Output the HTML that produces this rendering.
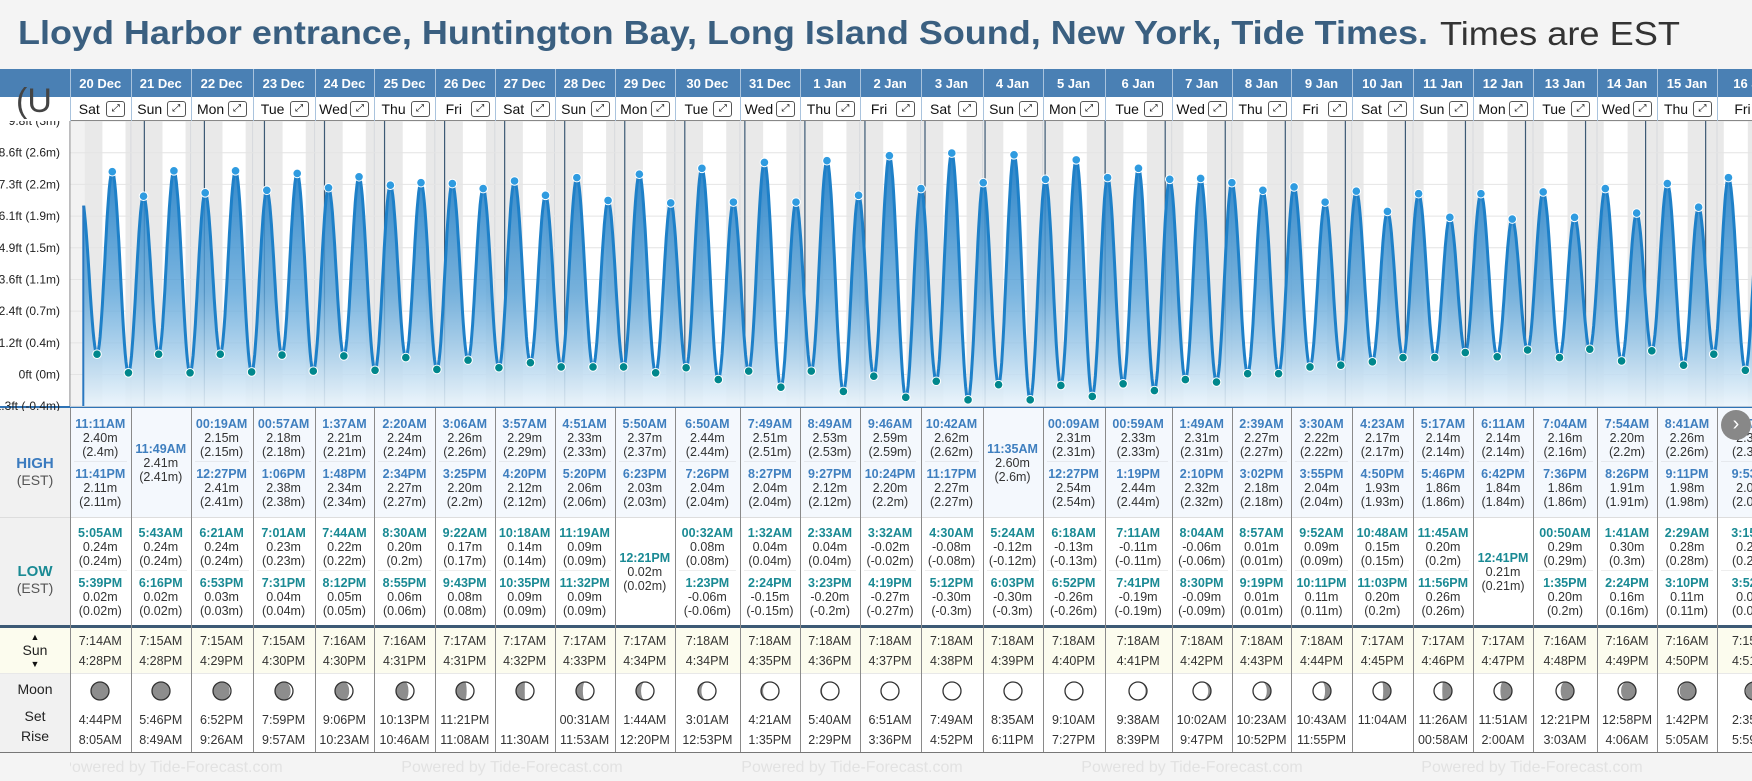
<!DOCTYPE html>
<html><head><meta charset="utf-8">
<style>
html,body{margin:0;padding:0;}
body{width:1752px;height:781px;overflow:hidden;position:relative;background:#f4f4f4;font-family:"Liberation Sans",Arial,sans-serif;}
.a{position:absolute;box-sizing:border-box;}
.t{position:absolute;white-space:nowrap;text-align:center;transform:translateX(-50%);}
</style></head>
<body>
<div class="a" style="left:18px;top:14px;height:44px;white-space:nowrap;">
<span id="ttl" style="font-size:33px;font-weight:bold;color:#3a5f80;display:inline-block;transform-origin:0 0;">Lloyd Harbor entrance, Huntington Bay, Long Island Sound, New York, Tide Times.</span>
</div>
<span id="ttl2" class="a" style="left:1440px;top:15px;font-size:33px;color:#333;white-space:nowrap;">Times are EST</span>
<div id="root"></div>
<svg id="chart" class="a" style="left:0;top:121px;" width="1752" height="290"></svg>
<script>
const dates=['20 Dec','21 Dec','22 Dec','23 Dec','24 Dec','25 Dec','26 Dec','27 Dec','28 Dec','29 Dec','30 Dec','31 Dec','1 Jan','2 Jan','3 Jan','4 Jan','5 Jan','6 Jan','7 Jan','8 Jan','9 Jan','10 Jan','11 Jan','12 Jan','13 Jan','14 Jan','15 Jan','16 Jan'];
const weekdays=['Sat','Sun','Mon','Tue','Wed','Thu','Fri','Sat','Sun','Mon','Tue','Wed','Thu','Fri','Sat','Sun','Mon','Tue','Wed','Thu','Fri','Sat','Sun','Mon','Tue','Wed','Thu','Fri'];
const highTimes=[['11:11AM','11:41PM'],['11:49AM'],['00:19AM','12:27PM'],['00:57AM','1:06PM'],['1:37AM','1:48PM'],['2:20AM','2:34PM'],['3:06AM','3:25PM'],['3:57AM','4:20PM'],['4:51AM','5:20PM'],['5:50AM','6:23PM'],['6:50AM','7:26PM'],['7:49AM','8:27PM'],['8:49AM','9:27PM'],['9:46AM','10:24PM'],['10:42AM','11:17PM'],['11:35AM'],['00:09AM','12:27PM'],['00:59AM','1:19PM'],['1:49AM','2:10PM'],['2:39AM','3:02PM'],['3:30AM','3:55PM'],['4:23AM','4:50PM'],['5:17AM','5:46PM'],['6:11AM','6:42PM'],['7:04AM','7:36PM'],['7:54AM','8:26PM'],['8:41AM','9:11PM'],['9:07AM','9:53PM']];
const highHeights=[[2.40,2.11],[2.41],[2.15,2.41],[2.18,2.38],[2.21,2.34],[2.24,2.27],[2.26,2.20],[2.29,2.12],[2.33,2.06],[2.37,2.03],[2.44,2.04],[2.51,2.04],[2.53,2.12],[2.59,2.20],[2.62,2.27],[2.60],[2.31,2.54],[2.33,2.44],[2.31,2.32],[2.27,2.18],[2.22,2.04],[2.17,1.93],[2.14,1.86],[2.14,1.84],[2.16,1.86],[2.20,1.91],[2.26,1.98],[2.33,2.05]];
const lowTimes=[['5:05AM','5:39PM'],['5:43AM','6:16PM'],['6:21AM','6:53PM'],['7:01AM','7:31PM'],['7:44AM','8:12PM'],['8:30AM','8:55PM'],['9:22AM','9:43PM'],['10:18AM','10:35PM'],['11:19AM','11:32PM'],['12:21PM'],['00:32AM','1:23PM'],['1:32AM','2:24PM'],['2:33AM','3:23PM'],['3:32AM','4:19PM'],['4:30AM','5:12PM'],['5:24AM','6:03PM'],['6:18AM','6:52PM'],['7:11AM','7:41PM'],['8:04AM','8:30PM'],['8:57AM','9:19PM'],['9:52AM','10:11PM'],['10:48AM','11:03PM'],['11:45AM','11:56PM'],['12:41PM'],['00:50AM','1:35PM'],['1:41AM','2:24PM'],['2:29AM','3:10PM'],['3:15AM','3:52PM']];
const lowHeights=[[0.24,0.02],[0.24,0.02],[0.24,0.03],[0.23,0.04],[0.22,0.05],[0.20,0.06],[0.17,0.08],[0.14,0.09],[0.09,0.09],[0.02],[0.08,-0.06],[0.04,-0.15],[0.04,-0.20],[-0.02,-0.27],[-0.08,-0.30],[-0.12,-0.30],[-0.13,-0.26],[-0.11,-0.19],[-0.06,-0.09],[0.01,0.01],[0.09,0.11],[0.15,0.20],[0.20,0.26],[0.21],[0.29,0.20],[0.30,0.16],[0.28,0.11],[0.24,0.05]];
const sunRise=['7:14AM','7:15AM','7:15AM','7:15AM','7:16AM','7:16AM','7:17AM','7:17AM','7:17AM','7:17AM','7:18AM','7:18AM','7:18AM','7:18AM','7:18AM','7:18AM','7:18AM','7:18AM','7:18AM','7:18AM','7:18AM','7:17AM','7:17AM','7:17AM','7:16AM','7:16AM','7:16AM','7:15AM'];
const sunSet=['4:28PM','4:28PM','4:29PM','4:30PM','4:30PM','4:31PM','4:31PM','4:32PM','4:33PM','4:34PM','4:34PM','4:35PM','4:36PM','4:37PM','4:38PM','4:39PM','4:40PM','4:41PM','4:42PM','4:43PM','4:44PM','4:45PM','4:46PM','4:47PM','4:48PM','4:49PM','4:50PM','4:51PM'];
const moonSet=['4:44PM','5:46PM','6:52PM','7:59PM','9:06PM','10:13PM','11:21PM','','00:31AM','1:44AM','3:01AM','4:21AM','5:40AM','6:51AM','7:49AM','8:35AM','9:10AM','9:38AM','10:02AM','10:23AM','10:43AM','11:04AM','11:26AM','11:51AM','12:21PM','12:58PM','1:42PM','2:35PM'];
const moonRise=['8:05AM','8:49AM','9:26AM','9:57AM','10:23AM','10:46AM','11:08AM','11:30AM','11:53AM','12:20PM','12:53PM','1:35PM','2:29PM','3:36PM','4:52PM','6:11PM','7:27PM','8:39PM','9:47PM','10:52PM','11:55PM','','00:58AM','2:00AM','3:03AM','4:06AM','5:05AM','5:59AM'];
const tickMeters=[-0.375,0,0.375,0.75,1.125,1.5,1.875,2.25,2.625,3.0];
const tickLabels=['-1.3ft (-0.4m)','0ft (0m)','1.2ft (0.4m)','2.4ft (0.7m)','3.6ft (1.1m)','4.9ft (1.5m)','6.1ft (1.9m)','7.3ft (2.2m)','8.6ft (2.6m)','9.8ft (3m)'];
const preExtreme=[-1,22.8,2.10];

// layout (not data)
const bx=[69.6,130.9,190.6,252.6,314.6,374.3,434.8,494.8,554.5,614.7,674.8,739.9,800,859.7,920.5,982.5,1042.6,1104.6,1171.7,1231.7,1291.3,1351.7,1413,1473,1533,1597,1657,1717,1790];
const CH_TOP=121;
function xT(t){return 84.3+60.05*t;}           // t in days since 20 Dec 00:00
function yM(m){return 374.5-84.5*m;}           // page y

const root=document.getElementById('root');
function box(name,l,t,w,h,css){const d=document.createElement('div');d.className='a';d.style.cssText=`left:${l}px;top:${t}px;width:${w}px;height:${h}px;`+(css||'');


root.appendChild(d);return d;}
function txt(name,x,y,s,css){const d=document.createElement('div');d.className='t';d.style.cssText=`left:${x}px;top:${y}px;`+(css||'');d.textContent=s;


root.appendChild(d);return d;}
function hrs(s){const m=s.match(/(\d+):(\d+)(AM|PM)/);let h=+m[1]%12;if(m[3]==='PM')h+=12;return h+ +m[2]/60;}
function fm(v){return (v<0?'-':'')+Math.abs(v).toFixed(2)+'m';}
function fp(v){return '('+parseFloat(v.toFixed(2))+'m)';}

// header
box('header-bar',0,69,1752,28,'background:#4a80b4;');
box('header-day-row',0,97,1752,24,'background:#fff;border-bottom:1px solid #888;');
box('header-left-cell',0,97,69.6,24,'background:#fff;');
txt('axis-unit-glyph',34,82,'(U','font-size:34px;color:#444;');
for(let i=0;i<dates.length;i++){
  const x0=bx[i],x1=bx[i+1],w=x1-x0,cx=(x0+x1)/2;
  box('date-divider',x0,69,1,52,'background:#a9c3dd;');
  txt('date-label',cx,76,dates[i],'font-size:13px;font-weight:bold;color:#fff;');
  txt('weekday-label',cx-11,101,weekdays[i],'font-size:14px;color:#111;');
  const b=box('expand-button',cx+6,101,19,16,'border:1px solid #555;border-radius:3px;background:#fff;font-size:10px;line-height:14px;text-align:center;color:#000;');
  
  b.textContent='⤢';
}

// table
box('label-column',0,408,69.6,344,'background:#f1f1f1;');
box('high-section',69.6,408,1700,109,'background:#f4f8fd;');
box('low-section',69.6,517,1700,109,'background:#fff;');
box('section-divider',0,517,1752,1,'background:#ddd;');
box('table-top-line',0,405,1752,3,'background:#2f73b5;');
box('sun-low-divider',0,625,1752,3,'background:#3d5a75;');
box('sun-row',69.6,628,1700,45,'background:#fcfcee;');
box('sun-label-bg',0,628,69.6,45,'background:#fcfcee;');
box('moon-row',69.6,673,1700,79,'background:#fff;');
box('sun-moon-divider',0,673,1752,1,'background:#e8e8e8;');
box('table-bottom-line',0,752,1752,1,'background:#777;');
txt('high-label',35,455,'HIGH','font-size:15px;font-weight:bold;color:#3b7bbf;');
txt('high-est-label',35,472,'(EST)','font-size:14px;color:#555;');
txt('low-label',35,563,'LOW','font-size:15px;font-weight:bold;color:#1a8a94;');
txt('low-est-label',35,580,'(EST)','font-size:14px;color:#555;');
txt('sun-arrow-up',35,632,'▲','font-size:9px;color:#111;');
txt('sun-label',35,642,'Sun','font-size:14px;color:#222;');
txt('sun-arrow-down',35,659,'▼','font-size:9px;color:#111;');
txt('moon-label',35,681,'Moon','font-size:14px;color:#222;');
txt('moonset-label',35,708,'Set','font-size:14px;color:#222;');
txt('moonrise-label',35,728,'Rise','font-size:14px;color:#222;');

function block(kind,cx,y,time,m,color){
  txt(kind+'-time',cx,y,time,`font-size:12.5px;font-weight:bold;color:${color};`);
  txt(kind+'-height',cx,y+14,fm(m),'font-size:12.5px;color:#333;');
  txt(kind+'-height-alt',cx,y+28,fp(m),'font-size:12.5px;color:#333;');
}
for(let i=0;i<dates.length;i++){
  const x0=bx[i],x1=bx[i+1],cx=(x0+x1)/2;
  box('column-border',x0,408,1,344,'background:#8a8a8a;');
  const ht=highTimes[i],hh=highHeights[i];
  if(ht.length===2){block('high',cx,417,ht[0],hh[0],'#3f7fbf');box('cell-sep',x0+4,461,x1-x0-8,1,'background:#e6e9ee;');block('high',cx,467,ht[1],hh[1],'#3f7fbf');}
  else block('high',cx,442,ht[0],hh[0],'#3f7fbf');
  const lt=lowTimes[i],lh=lowHeights[i];
  if(lt.length===2){block('low',cx,526,lt[0],lh[0],'#1a8a94');box('cell-sep',x0+4,570,x1-x0-8,1,'background:#eee;');block('low',cx,576,lt[1],lh[1],'#1a8a94');}
  else block('low',cx,551,lt[0],lh[0],'#1a8a94');
  txt('sunrise-time',cx,634,sunRise[i],'font-size:12.5px;color:#333;');
  txt('sunset-time',cx,654,sunSet[i],'font-size:12.5px;color:#333;');
  txt('moonset-time',cx,713,moonSet[i],'font-size:12.5px;color:#333;');
  txt('moonrise-time',cx,733,moonRise[i],'font-size:12.5px;color:#333;');
  // moon icon
  const p=((i+0.5)/29.5)%1, r=9, c=10;
  const rx=Math.abs(Math.cos(2*Math.PI*p))*r;
  let d;
  if(p<0.5){const sw=p<0.25?0:1;d=`M${c} ${c-r} A${r} ${r} 0 0 1 ${c} ${c+r} A${rx} ${r} 0 0 ${sw} ${c} ${c-r}Z`;}
  else{const sw=p<0.75?0:1;d=`M${c} ${c-r} A${r} ${r} 0 0 0 ${c} ${c+r} A${rx} ${r} 0 0 ${sw} ${c} ${c-r}Z`;}
  const mb=box('moon-phase-icon',cx-10,681,20,20,'');
  mb.innerHTML=`<svg width="20" height="20"><circle cx="10" cy="10" r="9" fill="#8d8d8d"/><path d="${d}" fill="#fff"/><circle cx="10" cy="10" r="9" fill="none" stroke="#333" stroke-width="1.3"/></svg>`;
}
// watermark
box('footer-bg',0,753,1752,28,'background:#f4f4f4;');
for(let k=0;k<5;k++){txt('watermark',32+340*k+140,759,'Powered by Tide-Forecast.com','font-size:16px;color:#e2e2e2;');}
box('footer-left',0,753,69.6,28,'background:#f4f4f4;');
const nb=box('next-arrow-button',1721,410,30,30,'border-radius:50%;background:#888;color:#fff;font-size:20px;line-height:28px;text-align:center;');

nb.textContent='›';

// chart
const svg=document.getElementById('chart');const NS='http://www.w3.org/2000/svg';
function el(tag,attrs,name){const e=document.createElementNS(NS,tag);for(const k in attrs)e.setAttribute(k,attrs[k]);


svg.appendChild(e);return e;}
function Y(m){return yM(m)-CH_TOP;}
const defs=document.createElementNS(NS,'defs');defs.innerHTML='<linearGradient id="fg" x1="0" y1="0" x2="0" y2="1"><stop offset="0" stop-color="#1f7cc4" stop-opacity="0.95"/><stop offset="0.55" stop-color="#5aa3d8" stop-opacity="0.8"/><stop offset="1" stop-color="#eaf4fb" stop-opacity="0.9"/></linearGradient><clipPath id="cp"><rect x="70" y="0" width="1690" height="285"/></clipPath>';svg.appendChild(defs);
el('rect',{x:0,y:0,width:70,height:285,fill:'#fff'},'y-axis-area');
el('rect',{x:70,y:0,width:1690,height:285,fill:'#fff'},'plot-background');
el('rect',{x:70,y:0,width:14,height:285,fill:'#f2f2f2'},'plot-left-margin');
for(let d=-1;d<28;d++){
  const s=d>=0?hrs(sunSet[d]):16.5, rr=d+1<28?hrs(sunRise[d+1]):7.25;
  const xa=Math.max(84.3,xT(d+s/24)), xb=xT(d+1+rr/24);
  if(xb>xa) el('rect',{x:xa,y:0,width:xb-xa,height:285,fill:'#e9e9e9'},'night-band');
}
for(let i=0;i<bx.length;i++) el('line',{x1:bx[i],x2:bx[i],y1:0,y2:285,stroke:'#d6d9dd','stroke-width':1},'column-gridline');
for(let i=0;i<tickMeters.length;i++){
  const y=Y(tickMeters[i]);
  el('line',{x1:70,x2:1752,y1:y,y2:y,stroke:'#e4e4e4','stroke-width':1},'y-gridline');
  const t=el('text',{x:60,y:y+4,'text-anchor':'end','font-size':12,fill:'#222','font-family':'Liberation Sans, sans-serif'},'y-tick-label');t.textContent=tickLabels[i];
}
for(let d=1;d<28;d++) el('line',{x1:xT(d),x2:xT(d),y1:0,y2:285,stroke:'#3d5a75','stroke-width':1.2},'midnight-line');
// extremes
const ext=[{t:preExtreme[0]+preExtreme[1]/24,m:preExtreme[2],hi:true}];
for(let i=0;i<dates.length;i++){
  highTimes[i].forEach((s,j)=>ext.push({t:i+hrs(s)/24,m:highHeights[i][j],hi:true}));
  lowTimes[i].forEach((s,j)=>ext.push({t:i+hrs(s)/24,m:lowHeights[i][j],hi:false}));
}
ext.sort((a,b)=>a.t-b.t);
let pts=[];
for(let k=0;k<ext.length-1;k++){const a=ext[k],b=ext[k+1];
  for(let s=0;s<=20;s++){const f=s/20,t=a.t+(b.t-a.t)*f,m=a.m+(b.m-a.m)*(1-Math.cos(Math.PI*f))/2;pts.push([xT(t),Y(m)]);}}
const x0c=83.3;pts=pts.filter(p=>p[0]>=x0c);
const line=pts.map((p,i)=>(i?'L':'M')+p[0].toFixed(1)+' '+p[1].toFixed(1)).join(' ');
const g=document.createElementNS(NS,'g');g.setAttribute('clip-path','url(#cp)');


svg.appendChild(g);
function gel(tag,attrs,name){const e=el(tag,attrs,name);g.appendChild(e);return e;}
gel('path',{d:line+` L${pts[pts.length-1][0]} 285 L${pts[0][0]} 285 Z`,fill:'url(#fg)'},'tide-area');
gel('path',{d:line,fill:'none',stroke:'#1e80c8','stroke-width':3,'stroke-linejoin':'round'},'tide-line');
gel('line',{x1:x0c,x2:x0c,y1:pts[0][1],y2:285,stroke:'#2a78c0','stroke-width':2},'tide-left-edge');
ext.forEach(e=>{const x=xT(e.t);if(x<x0c||x>1760)return;
  gel('circle',{cx:x,cy:Y(e.m),r:4.3,fill:e.hi?'#2f9be0':'#00878c',stroke:'#fff','stroke-width':1},e.hi?'high-tide-point':'low-tide-point');});
el('line',{x1:70,x2:70,y1:0,y2:285,stroke:'#999','stroke-width':1},'y-axis-line');

// fit title width
const ttl=document.getElementById('ttl');const w=ttl.getBoundingClientRect().width;ttl.style.transform=`scaleX(${1410/w})`;
const t2=document.getElementById('ttl2');const w2=t2.getBoundingClientRect().width;t2.style.transformOrigin='0 0';t2.style.transform=`scaleX(${240/w2})`;
</script>
</body></html>
